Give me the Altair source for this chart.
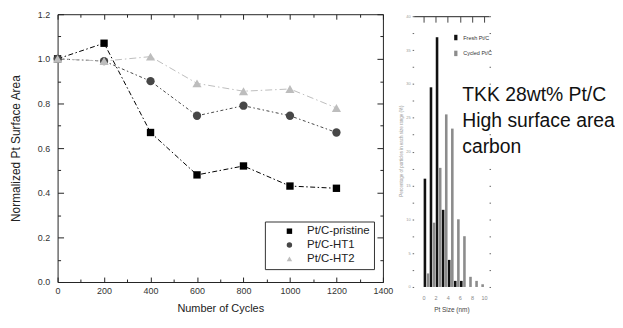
import altair as alt
import pandas as pd

# ---------------- data ----------------
cycles = [0, 200, 400, 600, 800, 1000, 1200]
pristine = [1.00, 1.07, 0.67, 0.48, 0.52, 0.43, 0.42]
ht1 = [1.00, 0.99, 0.90, 0.745, 0.79, 0.745, 0.67]
ht2 = [1.00, 0.99, 1.01, 0.89, 0.855, 0.865, 0.78]
series_names = ["Pt/C-pristine", "Pt/C-HT1", "Pt/C-HT2"]

x_major = [0, 200, 400, 600, 800, 1000, 1200, 1400]
x_minor = [100, 300, 500, 700, 900, 1100, 1300]
y_major = [0.0, 0.2, 0.4, 0.6, 0.8, 1.0, 1.2]
y_minor = [0.1, 0.3, 0.5, 0.7, 0.9, 1.1]

size_bins = [0.5, 1.5, 2.5, 3.5, 4.5, 5.5, 6.5, 7.5, 8.5, 9.5]
fresh = [16.0, 29.5, 36.9, 11.4, 4.0, 0.9, 0.9, 0.0, 0.0, 0.0]
cycled = [2.0, 9.5, 17.6, 25.5, 23.4, 10.0, 7.5, 1.5, 0.9, 0.4]
hist_names = ["Fresh Pt/C", "Cycled Pt/C"]
hist_x_ticks = [0, 2, 4, 6, 8, 10]
hist_y_ticks = [i * 2.5 for i in range(17)]

annotation = ["TKK 28wt% Pt/C", "High surface area", "carbon"]

FONT = "Liberation Sans"

# ---------------- left chart ----------------
rows = []
for name, vals in zip(series_names, [pristine, ht1, ht2]):
    for c, v in zip(cycles, vals):
        rows.append({"cycles": c, "value": v, "series": name})
df = pd.DataFrame(rows)

x_scale = alt.Scale(domain=[0, 1400], nice=False, zero=False)
y_scale = alt.Scale(domain=[0, 1.2], nice=False, zero=False)
series_colors = ["#000000", "#474747", "#bdbdbd"]
series_dash = [[5, 2.5, 1.5, 2.5], [3, 2.5, 1.5, 2.5], [7, 3, 1.5, 3]]

x_main_axis = alt.Axis(values=x_major, format="d", tickSize=0, domain=False,
                       grid=False, labelFlush=False,
                       labelFontSize=9, labelPadding=5, labelColor="#333",
                       title="Number of Cycles", titleFontSize=11,
                       titleFontWeight="normal",
                       titlePadding=7, titleColor="#222")
y_main_axis = alt.Axis(values=y_major, format=".1f", tickSize=0, domain=False,
                       grid=False, labelFlush=False, labelFontSize=9,
                       labelPadding=8, labelColor="#333",
                       title="Normalized Pt Surface Area",
                       titleFontSize=12, titleFontWeight="normal",
                       titlePadding=15, titleColor="#222")

line_layers = []
for i, (name, col, dash) in enumerate(zip(series_names, series_colors, series_dash)):
    line_layers.append(
        alt.Chart(df).transform_filter(alt.datum.series == name)
        .mark_line(strokeWidth=1, color=col, strokeDash=dash)
        .encode(
            x=alt.X("cycles:Q", scale=x_scale, axis=x_main_axis if i == 0 else None),
            y=alt.Y("value:Q", scale=y_scale, axis=y_main_axis if i == 0 else None),
        )
    )

legend_left = alt.Legend(title=None, orient="none", legendX=209, legendY=209,
                         strokeColor="#333", fillColor="white", padding=4,
                         symbolOffset=15, labelOffset=12, labelFontSize=11.5,
                         labelFont=FONT, labelColor="#222", symbolSize=30,
                         rowPadding=1, symbolStrokeWidth=0)

points = alt.Chart(df).mark_point(filled=True, opacity=1).encode(
    x=alt.X("cycles:Q", scale=x_scale, axis=None),
    y=alt.Y("value:Q", scale=y_scale, axis=None),
    color=alt.Color("series:N",
                    scale=alt.Scale(domain=series_names, range=series_colors),
                    legend=legend_left),
    shape=alt.Shape("series:N",
                    scale=alt.Scale(domain=series_names,
                                    range=["square", "circle", "triangle-up"]),
                    legend=legend_left),
    # reversed domain order keeps this (hidden) legend apart from the shown one
    size=alt.Size("series:N",
                  scale=alt.Scale(domain=series_names[::-1], range=[85, 55, 58]),
                  legend=None),
)


def tick_layer(xo, yo, xvals, yvals, xlen, ylen):
    return alt.Chart(df).mark_point(opacity=0, size=1).encode(
        x=alt.X("cycles:Q", scale=x_scale,
                axis=alt.Axis(orient=xo, values=xvals, offset=-xlen, tickSize=xlen,
                              labels=False, domain=False, grid=False, title=None,
                              tickColor="#222", tickWidth=1)),
        y=alt.Y("value:Q", scale=y_scale,
                axis=alt.Axis(orient=yo, values=yvals, offset=-ylen, tickSize=ylen,
                              labels=False, domain=False, grid=False, title=None,
                              tickColor="#222", tickWidth=1)),
    )


left = alt.layer(
    *line_layers, points,
    tick_layer("bottom", "left", x_major, y_major, 5, 6),
    tick_layer("bottom", "left", x_minor, y_minor, 3, 3),
    tick_layer("top", "right", x_major, y_major, 5, 6),
    tick_layer("top", "right", x_minor, y_minor, 3, 3),
).resolve_axis(x="independent", y="independent").properties(
    width=328, height=270,
    view=alt.ViewBackground(stroke="#222", strokeWidth=1),
)

# ---------------- histogram ----------------
hrows = []
for name, vals in zip(hist_names, [fresh, cycled]):
    for s, v in zip(size_bins, vals):
        hrows.append({"size": s, "pct": v, "sample": name})
hdf = pd.DataFrame(hrows)

hx_scale = alt.Scale(domain=[-0.8, 10], nice=False, zero=False)
hy_scale = alt.Scale(domain=[0, 40.3], nice=False, zero=True)

legend_hist = alt.Legend(title=None, orient="none", legendX=37, legendY=18,
                         padding=0, symbolType="M-0.3,-0.5H0.3V0.5H-0.3Z",
                         symbolSize=121, symbolStrokeWidth=0, labelFontSize=5.5,
                         labelFont=FONT, labelColor="#333", labelOffset=2,
                         rowPadding=7)

bars = alt.Chart(hdf).transform_calculate(
    xpos="datum.size + (datum.sample == 'Fresh Pt/C' ? -0.26 : 0.26)"
).mark_bar(size=2.6).encode(
    x=alt.X("xpos:Q", scale=hx_scale,
            axis=alt.Axis(orient="bottom", values=hist_x_ticks, domain=False,
                          ticks=False, grid=False, labelFlush=False,
                          labelFontSize=5.5, labelColor="#888", labelPadding=9,
                          title="Pt Size (nm)", titleFontSize=6.5,
                          titleFontWeight="normal",
                          titleColor="#444", titlePadding=5)),
    y=alt.Y("pct:Q", scale=hy_scale,
            axis=alt.Axis(orient="left", values=hist_y_ticks, tickSize=1.5,
                          tickColor="#666", domain=False, grid=False,
                          labelFlush=False,
                          labelExpr="datum.value % 5 == 0 ? datum.label : ''",
                          labelFontSize=4, labelColor="#999", labelPadding=2,
                          title="Percentage of particles in each size range (%)",
                          titleFontSize=4.5, titleFontWeight="normal",
                          titleColor="#999", titlePadding=2)),
    color=alt.Color("sample:N",
                    scale=alt.Scale(domain=hist_names, range=["#111111", "#8c8c8c"]),
                    legend=legend_hist),
)

hist_frame = alt.Chart(hdf).mark_point(opacity=0, size=1).encode(
    x=alt.X("size:Q", scale=hx_scale,
            axis=alt.Axis(orient="top", offset=-2, domain=True, domainColor="#222",
                          domainWidth=1, ticks=False, labels=False, grid=False,
                          title=None)),
    y=alt.Y("pct:Q", scale=hy_scale,
            axis=alt.Axis(orient="right", values=hist_y_ticks, tickSize=1.5,
                          tickColor="#666", domain=False, labels=False,
                          grid=False, title=None)),
)

hist_ticks = alt.Chart(hdf).mark_point(opacity=0, size=1).encode(
    x=alt.X("size:Q", scale=hx_scale,
            axis=alt.Axis(orient="top", offset=-8, values=hist_x_ticks, tickSize=6,
                          tickColor="#444", domain=False, labels=False,
                          grid=False, title=None)),
    y=alt.Y("pct:Q", scale=hy_scale, axis=None),
)

note = alt.Chart(pd.DataFrame({"k": [0]})).mark_text(
    align="left", baseline="alphabetic", fontSize=19.5, font=FONT,
    lineHeight=26.5, color="#111111"
).encode(
    x=alt.value(49), y=alt.value(87), text=alt.value(annotation)
)

hist = alt.layer(bars, hist_frame, hist_ticks, note).resolve_axis(
    x="independent", y="independent"
).properties(width=76, height=275)

chart = alt.hconcat(
    left, hist, spacing=31, bounds="flush", padding=0, background="white"
).resolve_scale(
    color="independent", shape="independent", size="independent"
).resolve_legend(
    color="independent", shape="independent", size="independent"
).configure_view(
    strokeWidth=0
).configure_axis(
    labelFont=FONT, titleFont=FONT, titleFontWeight="normal"
)

chart.save("out.html", embed_options={"renderer": "svg", "actions": False})
